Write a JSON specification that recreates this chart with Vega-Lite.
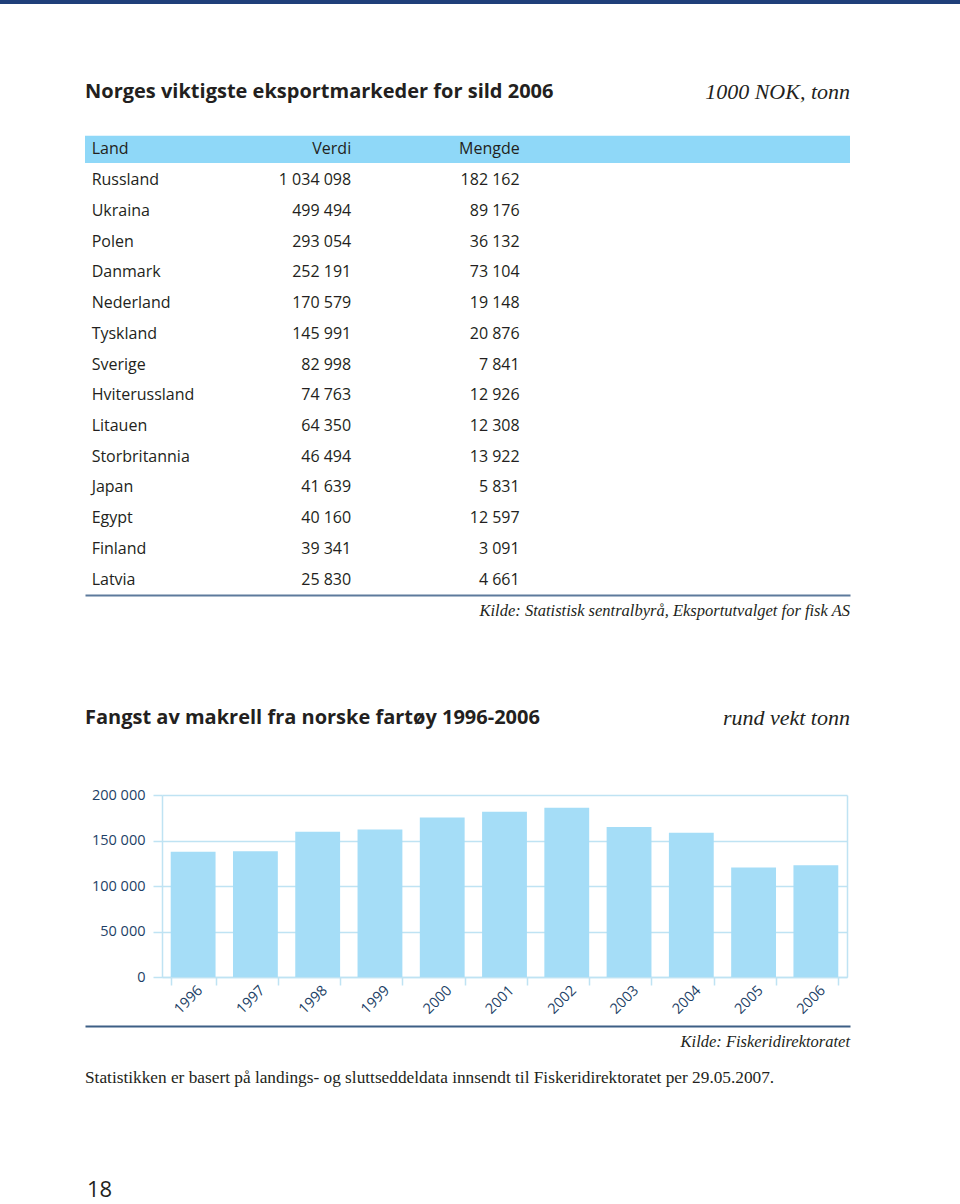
{
  "$schema": "https://vega.github.io/schema/vega-lite/v6.json",
  "background": "white",
  "padding": 0,
  "autosize": {"type": "pad"},
  "config": {
    "view": {"stroke": null},
    "locale": {"number": {"decimal": ",", "thousands": " ", "grouping": [3], "currency": ["", " kr"]}},
    "text": {"font": "Open Sans", "color": "#231f20", "fontSize": 16}
  },
  "datasets": {
    "eksport": [
      {"Land": "Russland", "Verdi": 1034098, "Mengde": 182162},
      {"Land": "Ukraina", "Verdi": 499494, "Mengde": 89176},
      {"Land": "Polen", "Verdi": 293054, "Mengde": 36132},
      {"Land": "Danmark", "Verdi": 252191, "Mengde": 73104},
      {"Land": "Nederland", "Verdi": 170579, "Mengde": 19148},
      {"Land": "Tyskland", "Verdi": 145991, "Mengde": 20876},
      {"Land": "Sverige", "Verdi": 82998, "Mengde": 7841},
      {"Land": "Hviterussland", "Verdi": 74763, "Mengde": 12926},
      {"Land": "Litauen", "Verdi": 64350, "Mengde": 12308},
      {"Land": "Storbritannia", "Verdi": 46494, "Mengde": 13922},
      {"Land": "Japan", "Verdi": 41639, "Mengde": 5831},
      {"Land": "Egypt", "Verdi": 40160, "Mengde": 12597},
      {"Land": "Finland", "Verdi": 39341, "Mengde": 3091},
      {"Land": "Latvia", "Verdi": 25830, "Mengde": 4661}
    ],
    "overskrift": [{"Land": "Land", "Verdi": "Verdi", "Mengde": "Mengde"}],
    "makrell": [
      {"År": "1996", "Fangst": 137600},
      {"År": "1997", "Fangst": 138300},
      {"År": "1998", "Fangst": 159600},
      {"År": "1999", "Fangst": 162200},
      {"År": "2000", "Fangst": 175400},
      {"År": "2001", "Fangst": 181600},
      {"År": "2002", "Fangst": 186000},
      {"År": "2003", "Fangst": 164800},
      {"År": "2004", "Fangst": 158500},
      {"År": "2005", "Fangst": 120300},
      {"År": "2006", "Fangst": 122900}
    ]
  },
  "concat": [
    {
      "width": 960, "height": 4,
      "data": {"values": [{"del": "topplinje"}]},
      "mark": {"type": "rect", "color": "#1f3f7a"},
      "encoding": {}
    },
    {
      "spacing": 0,
      "hconcat": [
        {
          "width": 79, "height": 1,
          "data": {"values": []},
          "mark": {"type": "rect", "opacity": 0},
          "encoding": {}
        },
        {
          "columns": 1,
          "spacing": 0,
          "concat": [
            {
              "width": 765, "height": 130,
              "data": {"values": [
                {"side": "venstre", "tekst": "Norges viktigste eksportmarkeder for sild 2006"},
                {"side": "høyre", "tekst": "1000 NOK, tonn"}
              ]},
              "encoding": {
                "x": {"field": "side", "type": "nominal", "scale": {"type": "point", "domain": ["venstre", "høyre"], "padding": 0}, "axis": null},
                "text": {"field": "tekst"}
              },
              "layer": [
                {"transform": [{"filter": "datum.side === 'venstre'"}], "mark": {"type": "text", "align": "left", "baseline": "middle", "fontWeight": "bold", "fontSize": 20, "dy": 23}},
                {"transform": [{"filter": "datum.side === 'høyre'"}], "mark": {"type": "text", "align": "right", "baseline": "middle", "font": "Liberation Serif", "fontStyle": "italic", "fontSize": 22, "dy": 23}}
              ]
            },
            {
              "width": 765, "height": 461,
              "encoding": {
                "y": {"field": "Land", "type": "nominal", "axis": null,
                  "scale": {"type": "band", "paddingInner": 0.12, "paddingOuter": 0.06,
                    "domain": ["Land", "Russland", "Ukraina", "Polen", "Danmark", "Nederland", "Tyskland", "Sverige", "Hviterussland", "Litauen", "Storbritannia", "Japan", "Egypt", "Finland", "Latvia"]}}
              },
              "layer": [
                {"data": {"name": "overskrift"}, "mark": {"type": "rect", "color": "#8fd8f8"}},
                {"data": {"name": "overskrift"}, "mark": {"type": "text", "align": "left", "baseline": "middle"},
                  "encoding": {"x": {"datum": "Land", "type": "nominal", "bandPosition": 0, "axis": null,
                    "scale": {"type": "band", "domain": ["Land", "Verdi", "Mengde"], "paddingInner": 0.4596, "paddingOuter": 1.1056, "align": 0.0197}},
                    "text": {"field": "Land"}}},
                {"data": {"name": "overskrift"}, "mark": {"type": "text", "align": "right", "baseline": "middle"},
                  "encoding": {"x": {"datum": "Verdi", "type": "nominal", "bandPosition": 1, "axis": null}, "text": {"field": "Verdi"}}},
                {"data": {"name": "overskrift"}, "mark": {"type": "text", "align": "right", "baseline": "middle"},
                  "encoding": {"x": {"datum": "Mengde", "type": "nominal", "bandPosition": 1, "axis": null}, "text": {"field": "Mengde"}}},
                {"data": {"name": "eksport"}, "mark": {"type": "text", "align": "left", "baseline": "middle"},
                  "encoding": {"x": {"datum": "Land", "type": "nominal", "bandPosition": 0, "axis": null}, "text": {"field": "Land"}}},
                {"data": {"name": "eksport"}, "mark": {"type": "text", "align": "right", "baseline": "middle"},
                  "encoding": {"x": {"datum": "Verdi", "type": "nominal", "bandPosition": 1, "axis": null}, "text": {"field": "Verdi", "type": "quantitative", "format": ",d"}}},
                {"data": {"name": "eksport"}, "mark": {"type": "text", "align": "right", "baseline": "middle"},
                  "encoding": {"x": {"datum": "Mengde", "type": "nominal", "bandPosition": 1, "axis": null}, "text": {"field": "Mengde", "type": "quantitative", "format": ",d"}}}
              ]
            },
            {
              "width": 765, "height": 31,
              "data": {"values": [{"side": "høyre", "tekst": "Kilde: Statistisk sentralbyrå, Eksportutvalget for fisk AS"}]},
              "mark": {"type": "text", "align": "right", "baseline": "middle", "font": "Liberation Serif", "fontStyle": "italic", "fontSize": 16.5},
              "encoding": {
                "x": {"field": "side", "type": "nominal", "scale": {"type": "point", "domain": ["venstre", "høyre"], "padding": 0},
                  "axis": {"orient": "top", "labels": false, "ticks": false, "grid": false, "title": null, "domain": true, "domainColor": "#5d7a9c", "domainWidth": 2}},
                "text": {"field": "tekst"}
              }
            },
            {
              "width": 765, "height": 161,
              "data": {"values": [
                {"side": "venstre", "tekst": "Fangst av makrell fra norske fartøy 1996-2006"},
                {"side": "høyre", "tekst": "rund vekt tonn"}
              ]},
              "encoding": {
                "x": {"field": "side", "type": "nominal", "scale": {"type": "point", "domain": ["venstre", "høyre"], "padding": 0}, "axis": null},
                "text": {"field": "tekst"}
              },
              "layer": [
                {"transform": [{"filter": "datum.side === 'venstre'"}], "mark": {"type": "text", "align": "left", "baseline": "middle", "fontWeight": "bold", "fontSize": 20, "dy": 11}},
                {"transform": [{"filter": "datum.side === 'høyre'"}], "mark": {"type": "text", "align": "right", "baseline": "middle", "font": "Liberation Serif", "fontStyle": "italic", "fontSize": 22, "dy": 11}}
              ]
            },
            {
              "width": 762, "height": 182,
              "data": {"name": "makrell"},
              "encoding": {
                "x": {"field": "År", "type": "ordinal", "title": null,
                  "scale": {"type": "band", "paddingInner": 0.28, "paddingOuter": 0.14, "range": [77, 762]},
                  "axis": {"labelAngle": -45, "labelAlign": "right", "labelBaseline": "middle", "labelFont": "Open Sans", "labelFontSize": 14.5, "labelColor": "#1d3f66",
                    "tickBand": "extent", "tickSize": 8, "tickColor": "#bfe3f3", "tickWidth": 1.5, "domainColor": "#bfe3f3", "domainWidth": 1.5,
                    "labelPadding": 3, "labelOffset": 7, "minExtent": 49, "maxExtent": 49}}
              },
              "layer": [
                {
                  "mark": {"type": "bar", "color": "#a5ddf7"},
                  "encoding": {
                    "y": {"field": "Fangst", "type": "quantitative", "title": null,
                      "scale": {"domain": [0, 200000], "nice": false},
                      "axis": {"values": [0, 50000, 100000, 150000, 200000], "format": ",d", "labelFont": "Open Sans", "labelFontSize": 14.5, "labelColor": "#1d3f66",
                        "tickSize": 9, "tickColor": "#bfe3f3", "tickWidth": 1.5, "domainColor": "#bfe3f3", "domainWidth": 1.5,
                        "grid": true, "gridColor": "#bfe3f3", "gridWidth": 1.5, "labelPadding": 8, "offset": -77}}
                  }
                },
                {
                  "mark": {"type": "bar", "opacity": 0},
                  "encoding": {
                    "y": {"field": "Fangst", "type": "quantitative", "title": null,
                      "axis": {"orient": "right", "labels": false, "ticks": false, "grid": false, "domain": true, "domainColor": "#bfe3f3", "domainWidth": 1.5}}
                  }
                }
              ],
              "resolve": {"axis": {"y": "independent"}}
            },
            {
              "width": 765, "height": 32,
              "data": {"values": [{"side": "høyre", "tekst": "Kilde: Fiskeridirektoratet"}]},
              "mark": {"type": "text", "align": "right", "baseline": "middle", "font": "Liberation Serif", "fontStyle": "italic", "fontSize": 16.5},
              "encoding": {
                "x": {"field": "side", "type": "nominal", "scale": {"type": "point", "domain": ["venstre", "høyre"], "padding": 0},
                  "axis": {"orient": "top", "labels": false, "ticks": false, "grid": false, "title": null, "domain": true, "domainColor": "#3d5f85", "domainWidth": 2}},
                "text": {"field": "tekst"}
              }
            },
            {
              "width": 765, "height": 40,
              "data": {"values": [{"side": "venstre", "tekst": "Statistikken er basert på landings- og sluttseddeldata innsendt til Fiskeridirektoratet per 29.05.2007."}]},
              "mark": {"type": "text", "align": "left", "baseline": "middle", "font": "Liberation Serif", "fontSize": 17.3},
              "encoding": {
                "x": {"field": "side", "type": "nominal", "scale": {"type": "point", "domain": ["venstre", "høyre"], "padding": 0}, "axis": null},
                "text": {"field": "tekst"}
              }
            },
            {
              "width": 765, "height": 105,
              "data": {"values": [{"side": "venstre", "tekst": "18"}]},
              "mark": {"type": "text", "align": "left", "baseline": "middle", "fontSize": 22, "dx": 2, "dy": 39},
              "encoding": {
                "x": {"field": "side", "type": "nominal", "scale": {"type": "point", "domain": ["venstre", "høyre"], "padding": 0}, "axis": null},
                "text": {"field": "tekst"}
              }
            }
          ]
        }
      ]
    }
  ],
  "columns": 1,
  "spacing": 0
}
